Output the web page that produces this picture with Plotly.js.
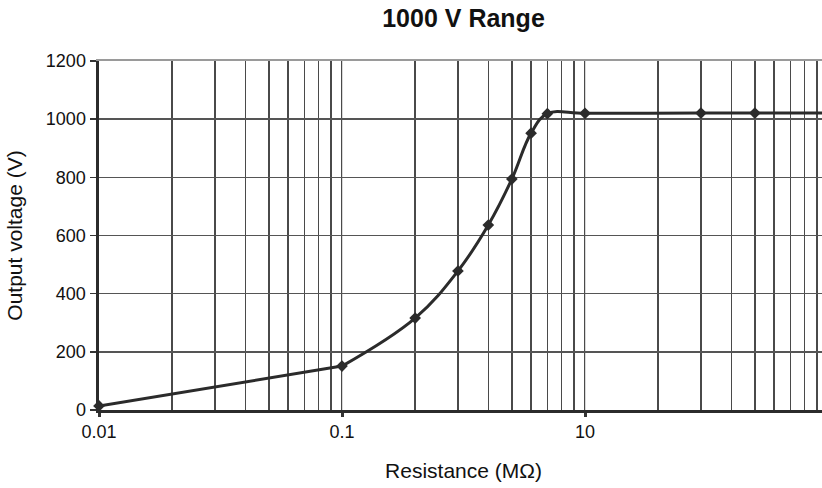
<!DOCTYPE html>
<html>
<head>
<meta charset="utf-8">
<script src="https://cdn.plot.ly/plotly-3.0.1.min.js"></script>
<style>
html,body{margin:0;padding:0;overflow:hidden;background:#fff;}
#chart{width:840px;height:488px;}
</style>
</head>
<body>
<div id="chart"></div>
<script>
// Data
const resistance = [0.01, 0.1, 0.2, 0.3, 0.4, 0.5, 0.6, 0.7, 1, 3, 5, 10];
const voltage    = [14, 151, 316, 478, 636, 794, 952, 1019, 1020, 1021, 1021, 1021];
const xTickVals  = [0.01, 0.1, 1, 10];
const xTickText  = ['0.01', '0.1', '10', ''];
const yTickVals  = [0, 200, 400, 600, 800, 1000, 1200];

const lineColor = '#2b2b2b';
// straight low segment (first two points), smooth curve from 0.1 onwards
const lowSeg = {
  x: resistance.slice(0, 2), y: voltage.slice(0, 2),
  type: 'scatter', mode: 'lines',
  line: {color: lineColor, width: 3},
  showlegend: false
};
const curve = {
  x: resistance.slice(1), y: voltage.slice(1),
  type: 'scatter', mode: 'lines',
  line: {color: lineColor, width: 3, shape: 'spline', smoothing: 1.1},
  showlegend: false
};
const points = {
  x: resistance, y: voltage,
  type: 'scatter', mode: 'markers',
  marker: {color: lineColor, size: 9, symbol: 'diamond'},
  cliponaxis: false,
  showlegend: false
};
const topEdge = {
  x: [], y: [], xaxis: 'x2', yaxis: 'y', type: 'scatter', showlegend: false, hoverinfo: 'skip'
};

const layout = {
  width: 840,
  height: 488,
  margin: {l: 99, r: 12, t: 61, b: 78},
  paper_bgcolor: '#fff',
  plot_bgcolor: '#fff',
  font: {family: 'Liberation Sans, Arial, sans-serif', color: '#111', size: 18},
  title: {
    text: '<b>1000 V Range</b>',
    font: {family: 'Liberation Sans, Arial, sans-serif', size: 25, color: '#111'},
    x: 0.5, xref: 'paper', xanchor: 'center',
    y: 0.962, yref: 'container', yanchor: 'middle'
  },
  xaxis: {
    type: 'log',
    range: [-2, 1],
    tickvals: xTickVals,
    ticktext: xTickText,
    ticks: 'outside', ticklen: 4, tickwidth: 3, tickcolor: '#333',
    showgrid: true, gridcolor: '#d8d8d8', gridwidth: 1,
    minor: {dtick: 'D1', showgrid: true, gridcolor: '#4a4a4a', gridwidth: 1.5, ticks: ''},
    showline: true, linecolor: '#2b2b2b', linewidth: 2.5,
    zeroline: false, automargin: false,
    tickfont: {size: 18, color: '#111'},
    title: {text: 'Resistance (MΩ)', font: {size: 21, color: '#111'}, standoff: 22}
  },
  xaxis2: {
    type: 'log', range: [-2, 1], overlaying: 'x', side: 'top',
    showline: true, linecolor: '#9a9a9a', linewidth: 2.5,
    showgrid: false, showticklabels: false, ticks: '', zeroline: false
  },
  yaxis: {
    range: [0, 1200],
    tickvals: yTickVals,
    ticks: 'outside', ticklen: 6, tickwidth: 1.5, tickcolor: '#333',
    showgrid: true, gridcolor: '#555', gridwidth: 1.5,
    showline: true, linecolor: '#2b2b2b', linewidth: 3.5,
    zeroline: false, automargin: false,
    tickfont: {size: 18, color: '#111'},
    title: {text: 'Output voltage (V)', font: {size: 21, color: '#111'}, standoff: 18}
  }
};

Plotly.newPlot('chart', [lowSeg, curve, points, topEdge], layout, {displayModeBar: false, staticPlot: true});
</script>
</body>
</html>
